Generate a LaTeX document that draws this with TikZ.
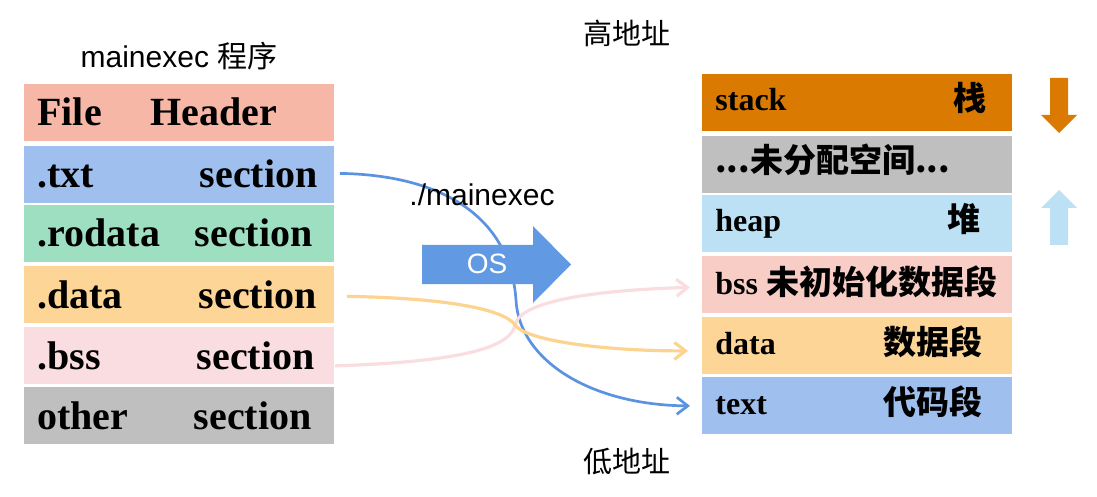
\documentclass[tikz,border=0pt]{standalone}
\usepackage{fontspec}
\setmainfont{Liberation Serif}
\setsansfont{Liberation Sans}
\newfontfamily\cjk{Noto Sans CJK SC}
\usetikzlibrary{arrows.meta,calc}
\definecolor{cHeader}{HTML}{F7B7A7}
\definecolor{cTxt}{HTML}{9FBFEE}
\definecolor{cRodata}{HTML}{9DDFC0}
\definecolor{cData}{HTML}{FDD596}
\definecolor{cBss}{HTML}{FADDE1}
\definecolor{cOther}{HTML}{BFBFBF}
\definecolor{cStack}{HTML}{DB7A00}
\definecolor{cHeap}{HTML}{BCE1F4}
\definecolor{cRBss}{HTML}{F8CDC6}
\definecolor{cOS}{HTML}{6199E3}
\definecolor{cBlueLine}{HTML}{5B93E0}
\definecolor{cOrangeLine}{HTML}{FDD390}
\definecolor{cPinkLine}{HTML}{F9DDE0}
\tikzset{
  seg/.style={rectangle, inner sep=0pt, minimum width=155pt, minimum height=28.5pt, anchor=north west},
  ltxt/.style={inner sep=0pt, font=\bfseries\fontsize{20}{24}\selectfont},
  rtxt/.style={inner sep=0pt, font=\bfseries\fontsize{16}{20}\selectfont},
  rcjk/.style={inner sep=0pt, font=\cjk\bfseries\fontsize{16.5}{20}\selectfont},
  plain/.style={inner sep=0pt, font=\sffamily\fontsize{15}{18}\selectfont},
  plaincjk/.style={inner sep=0pt, font=\cjk\fontsize{14.5}{18}\selectfont},
  conn/.style={line width=1.6pt, -{Straight Barb[length=5.5pt,width=8.5pt]}},
}
\begin{document}
\begin{tikzpicture}[x=0.5pt,y=-0.5pt]
\useasboundingbox (0,0) rectangle (1097,497);
% left file layout
\node[seg, fill=cHeader] (hdr) at (24,84) {};
\node[seg, fill=cTxt] (txt) at (24,146) {};
\node[seg, fill=cRodata] (rod) at (24,205) {};
\node[seg, fill=cData] (dat) at (24,266) {};
\node[seg, fill=cBss] (bss) at (24,327) {};
\node[seg, fill=cOther] (oth) at (24,387) {};
\node[plain, anchor=base] (title) at (179,68) {mainexec {\cjk 程序}};
\node[ltxt, anchor=base west] (l1) at (37,126) {File};
\node[ltxt, anchor=base west] (r1) at (150,126) {Header};
\node[ltxt, anchor=base west] (l2) at (37,188) {.txt};
\node[ltxt, anchor=base east] (r2) at (318,188) {section};
\node[ltxt, anchor=base west] (l3) at (37,247) {.rodata};
\node[ltxt, anchor=base east] (r3) at (313,247) {section};
\node[ltxt, anchor=base west] (l4) at (37,308) {.data};
\node[ltxt, anchor=base east] (r4) at (317,308) {section};
\node[ltxt, anchor=base west] (l5) at (37,369) {.bss};
\node[ltxt, anchor=base east] (r5) at (315,369) {section};
\node[ltxt, anchor=base west] (l6) at (37,429) {other};
\node[ltxt, anchor=base east] (r6) at (312,429) {section};
% right memory layout
\node[seg, fill=cStack] (mstack) at (702,74) {};
\node[seg, fill=cOther] (mfree) at (702,136) {};
\node[seg, fill=cHeap] (mheap) at (702,195) {};
\node[seg, fill=cRBss] (mbss) at (702,256) {};
\node[seg, fill=cData] (mdata) at (702,317) {};
\node[seg, fill=cTxt] (mtext) at (702,377) {};
\node[rtxt, anchor=base west] (s1) at (715,111) {stack};
\node[rcjk, anchor=base east] (c1) at (987,111) {栈};
\node[rcjk, anchor=base west] (s2) at (715,173) {...未分配空间...};
\node[rtxt, anchor=base west] (s3) at (715,232) {heap};
\node[rcjk, anchor=base east] (c3) at (981,232) {堆};
\node[anchor=base west, inner sep=0pt] (s4) at (715,294) {\fontsize{16}{20}\selectfont\bfseries bss {\cjk\fontsize{16.5}{20}\selectfont 未初始化数据段}};
\node[rtxt, anchor=base west] (s5) at (715,354) {data};
\node[rcjk, anchor=base east] (c5) at (983,354) {数据段};
\node[rtxt, anchor=base west] (s6) at (715,414) {text};
\node[rcjk, anchor=base east] (c6) at (983,414) {代码段};
\node[plaincjk] (hi) at (627,33) {高地址};
\node[plaincjk] (lo) at (627,462) {低地址};
% growth arrows
\fill[cStack] (1050,78) -- (1068,78) -- (1068,115) -- (1077,115) -- (1059,133) -- (1041,115) -- (1050,115) -- cycle;
\fill[cHeap] (1050,245) -- (1068,245) -- (1068,208) -- (1077,208) -- (1059,190) -- (1041,208) -- (1050,208) -- cycle;
% connectors
\coordinate (bs) at ($(txt.east)+(5,-1.5)$);
\coordinate (be) at ($(mtext.west)+(-12,0)$);
\coordinate (os1) at ($(dat.east)+(12,1.5)$);
\coordinate (oe) at ($(mdata.west)+(-14,5)$);
\coordinate (ps) at ($(bss.east)+(0,10)$);
\coordinate (pe) at ($(mbss.west)+(-12,2.5)$);
\draw[conn, cBlueLine, line width=1.35pt] (bs) .. controls (440,175) and (510,215) .. (516,300) .. controls (519,360) and (590,405) .. (be);
\draw[conn, cPinkLine] (ps) .. controls (450,362) and (510,350) .. (515,325) .. controls (520,300) and (600,290) .. (pe);
\draw[conn, cOrangeLine] (os1) .. controls (450,298) and (505,310) .. (515,325) .. controls (525,340) and (600,351) .. (oe);
% OS arrow
\fill[cOS] (422,245) -- (533,245) -- (533,226) -- (571,264.5) -- (533,303) -- (533,284) -- (422,284) -- cycle;
\node[inner sep=0pt, font=\sffamily\fontsize{14}{16}\selectfont, text=white] (os) at (487,264) {OS};
\node[plain] (cmd) at (482,195) {./mainexec};
\end{tikzpicture}
\end{document}
